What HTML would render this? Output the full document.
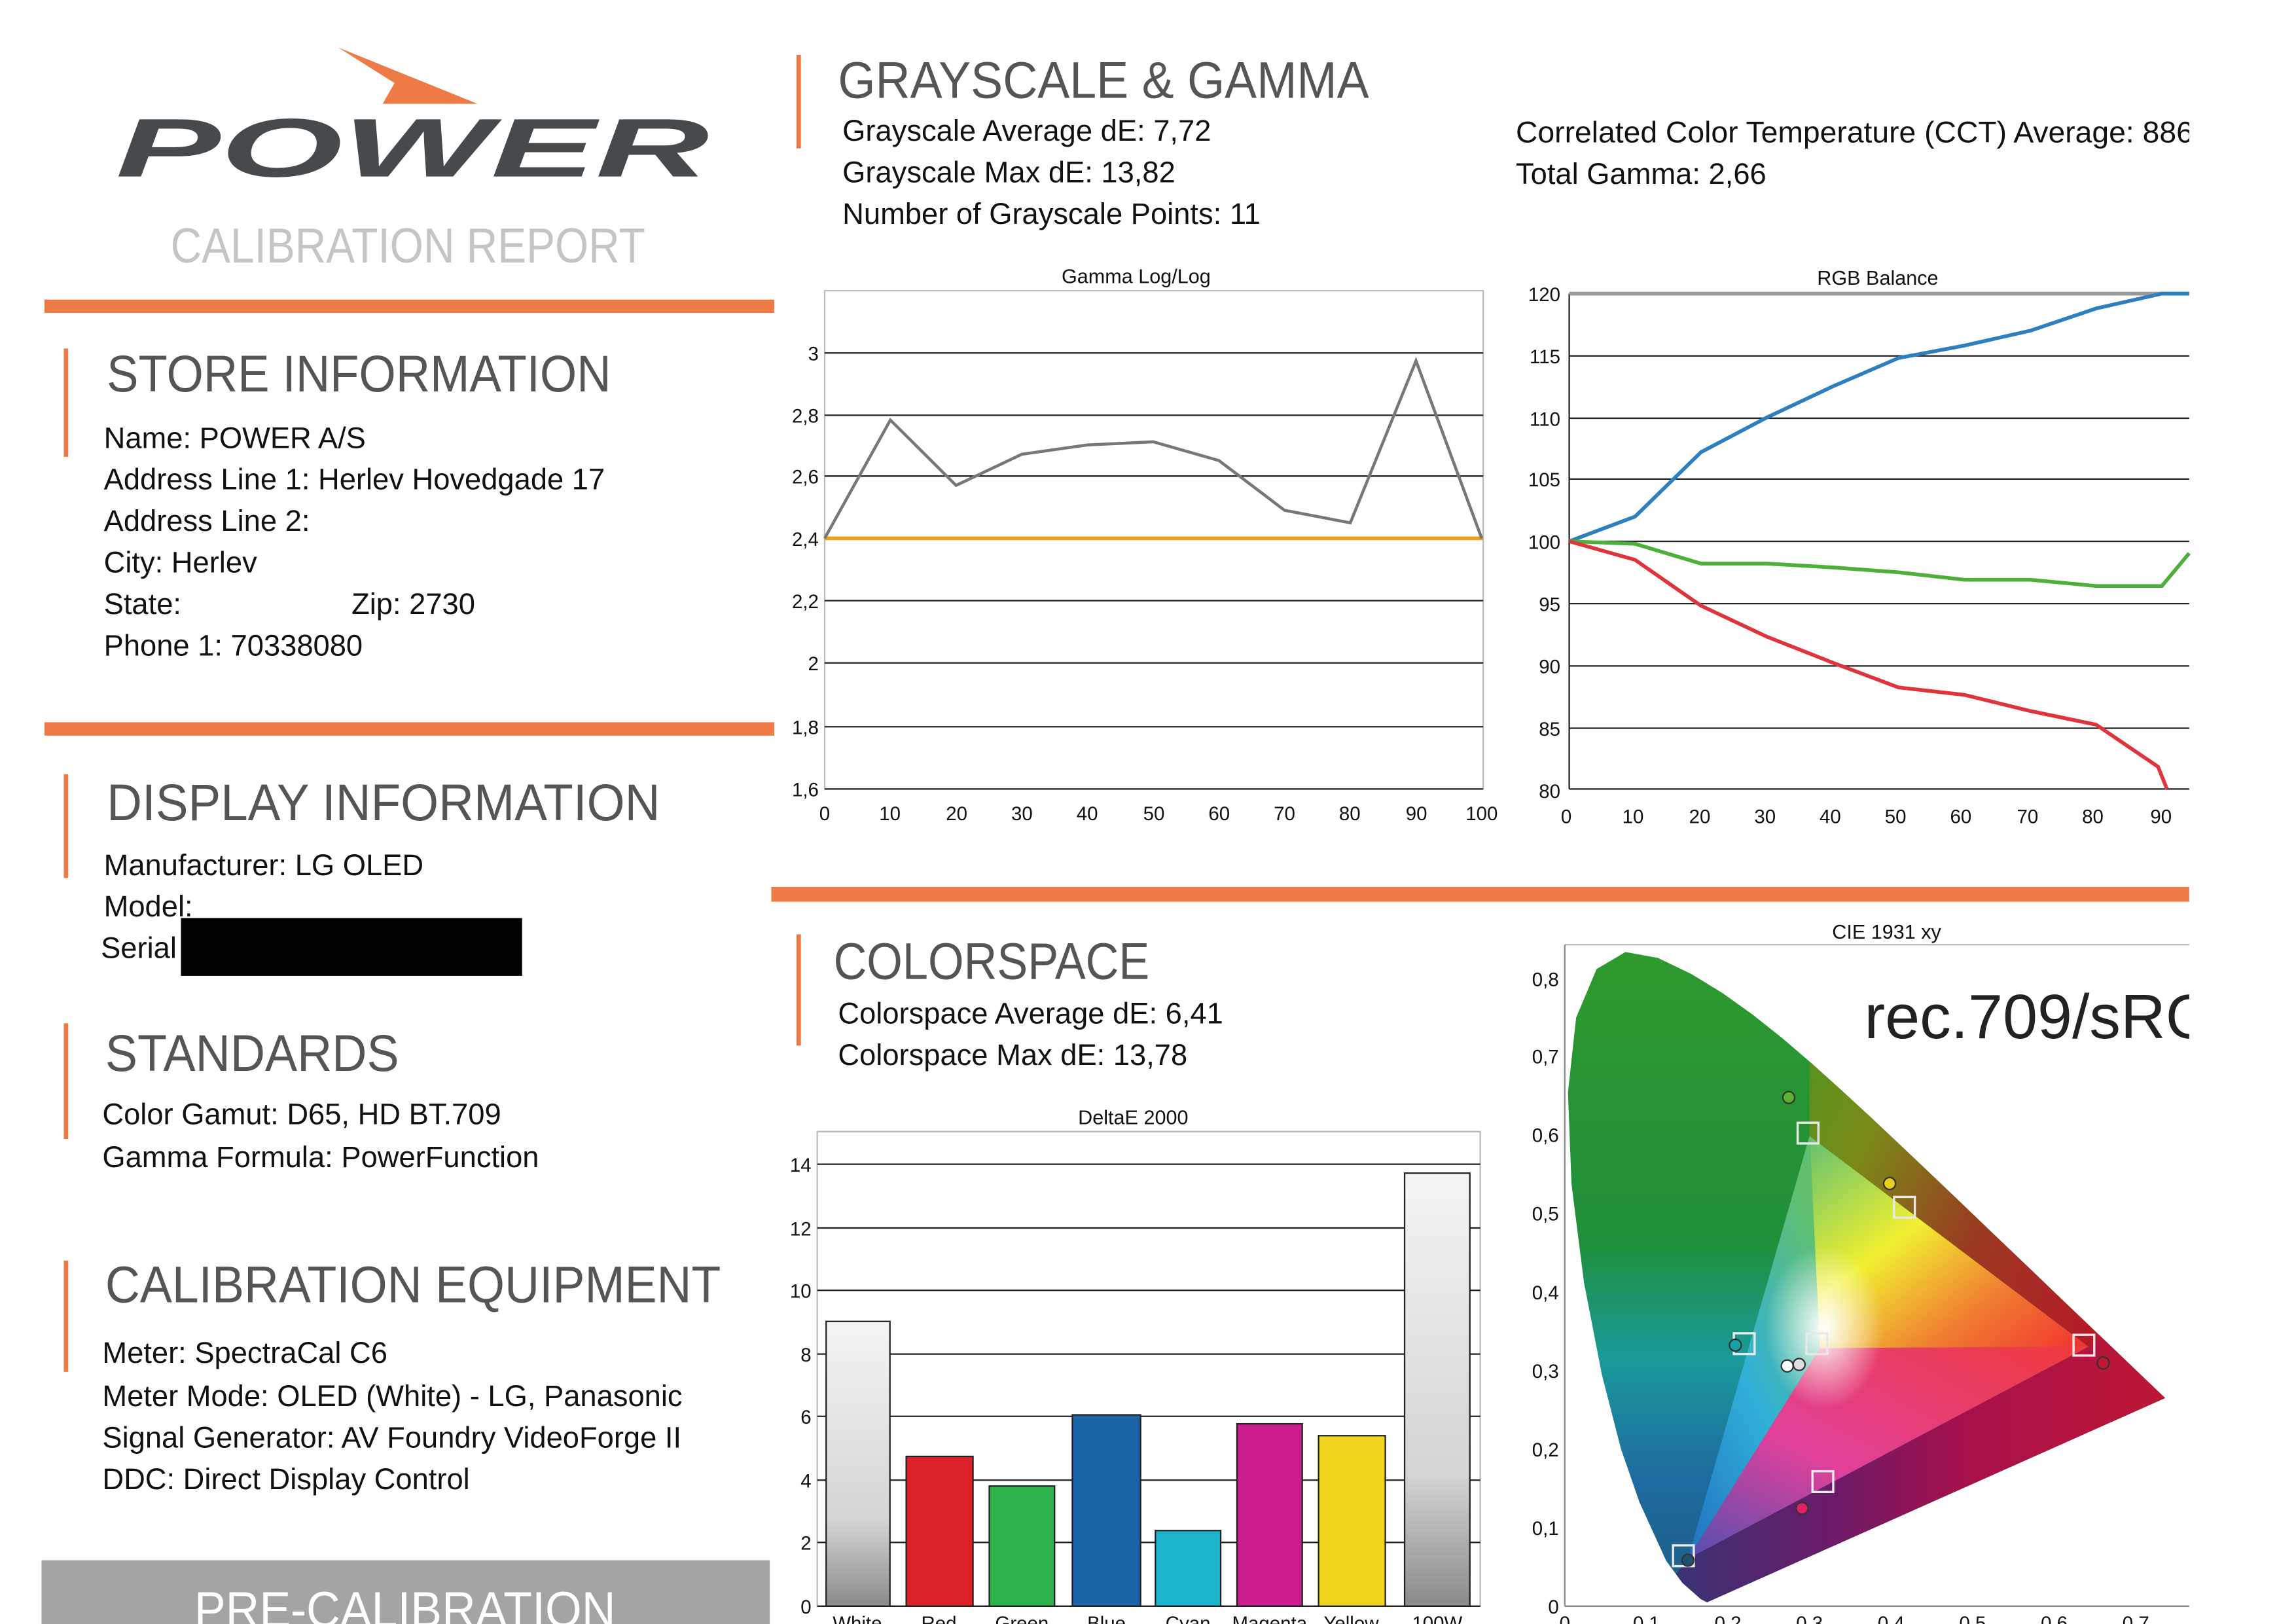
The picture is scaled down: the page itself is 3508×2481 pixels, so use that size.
<!DOCTYPE html>
<html><head><meta charset="utf-8"><style>
html,body{margin:0;padding:0;background:#fff;}
svg{display:block;}
text{font-family:"Liberation Sans",sans-serif;}
</style></head><body>
<svg width="3508" height="2481" viewBox="0 0 1548 1095" preserveAspectRatio="none" xmlns="http://www.w3.org/2000/svg">
<defs>
<clipPath id="cl"><rect x="0" y="0" width="1476" height="1095"/></clipPath>
<linearGradient id="hg" x1="0" y1="0" x2="0" y2="1">
<stop offset="0" stop-color="#2f9a2c"/><stop offset="0.45" stop-color="#1f8f3a"/><stop offset="0.62" stop-color="#1a9a9a"/><stop offset="0.8" stop-color="#1e6aa0"/><stop offset="1" stop-color="#1f5c80"/></linearGradient>
<linearGradient id="lw" x1="0" y1="0" x2="1" y2="0"><stop offset="0" stop-color="#2a3a78"/><stop offset="0.35" stop-color="#6a1a68"/><stop offset="0.6" stop-color="#a8104a"/><stop offset="1" stop-color="#c01830"/></linearGradient>
<linearGradient id="uw" x1="0" y1="0" x2="1" y2="0.6"><stop offset="0" stop-color="#3a9a22"/><stop offset="0.35" stop-color="#7a8a18"/><stop offset="0.65" stop-color="#9a3a20"/><stop offset="1" stop-color="#b81828"/></linearGradient>
<linearGradient id="t1" x1="0" y1="0" x2="1" y2="1"><stop offset="0" stop-color="#60c070"/><stop offset="0.4" stop-color="#f0f030"/><stop offset="0.7" stop-color="#f08030"/><stop offset="1" stop-color="#f03030"/></linearGradient>
<linearGradient id="t2" x1="1" y1="0" x2="0" y2="1"><stop offset="0" stop-color="#f03a3a"/><stop offset="0.6" stop-color="#e0409a"/><stop offset="1" stop-color="#5050b0"/></linearGradient>
<linearGradient id="t3" x1="0" y1="1" x2="0.6" y2="0"><stop offset="0" stop-color="#2070c0"/><stop offset="0.5" stop-color="#30b0d8"/><stop offset="1" stop-color="#60c070"/></linearGradient>
<radialGradient id="wc" cx="0.5" cy="0.5" r="0.5"><stop offset="0" stop-color="#fff" stop-opacity="1"/><stop offset="1" stop-color="#fff" stop-opacity="0"/></radialGradient>
<linearGradient id="bw" x1="0" y1="0" x2="0" y2="1"><stop offset="0" stop-color="#f4f4f4"/><stop offset="0.7" stop-color="#d4d4d4"/><stop offset="1" stop-color="#8a8a8a"/></linearGradient>
<clipPath id="hs"><path transform="translate(1055,1083) scale(551,-529)" d="M0.1741,0.005 L0.1666,0.0089 L0.144,0.0297 L0.1241,0.0578 L0.0913,0.1327 L0.0687,0.2007 L0.0454,0.295 L0.0235,0.4127 L0.0082,0.5384 L0.0039,0.6548 L0.0139,0.7502 L0.0389,0.812 L0.0743,0.8338 L0.1142,0.8262 L0.1547,0.8059 L0.1929,0.7816 L0.2296,0.7543 L0.2658,0.7243 L0.3016,0.6923 L0.3373,0.6589 L0.3731,0.6245 L0.4087,0.5896 L0.4441,0.5547 L0.4788,0.5202 L0.5125,0.4866 L0.5448,0.4544 L0.5752,0.4242 L0.6029,0.3965 L0.627,0.3725 L0.6482,0.3514 L0.6658,0.334 L0.6801,0.3197 L0.7347,0.2653 Z"/></clipPath>
</defs>
<rect width="1548" height="1095" fill="#fff"/>
<!-- logo -->
<polygon points="228,32 322,70 258,70 266,56" fill="#ee7b45"/>
<text x="78" y="119" font-size="56" font-weight="bold" font-style="italic" fill="#474a4d" textLength="400" lengthAdjust="spacingAndGlyphs">POWER</text>
<text x="115" y="177" font-size="33" fill="#c4c6c4" textLength="320" lengthAdjust="spacingAndGlyphs">CALIBRATION REPORT</text>
<rect x="30" y="202" width="492" height="9" fill="#ee7b45"/>
<rect x="43" y="235" width="3" height="73" fill="#ee7b45"/>
<text x="72" y="264" font-size="35" fill="#555" textLength="340" lengthAdjust="spacingAndGlyphs">STORE INFORMATION</text>
<g font-size="20" fill="#111">
<text x="70" y="302">Name: POWER A/S</text>
<text x="70" y="330">Address Line 1: Herlev Hovedgade 17</text>
<text x="70" y="358">Address Line 2:</text>
<text x="70" y="386">City: Herlev</text>
<text x="70" y="414">State:</text><text x="237" y="414">Zip: 2730</text>
<text x="70" y="442">Phone 1: 70338080</text>
</g>
<rect x="30" y="487" width="492" height="9" fill="#ee7b45"/>
<rect x="43" y="522" width="3" height="70" fill="#ee7b45"/>
<text x="72" y="553" font-size="35" fill="#555" textLength="373" lengthAdjust="spacingAndGlyphs">DISPLAY INFORMATION</text>
<g font-size="20" fill="#111">
<text x="70" y="590">Manufacturer: LG OLED</text>
<text x="70" y="618">Model:</text>
<text x="68" y="646">Serial</text>
</g>
<rect x="122" y="619" width="230" height="39" fill="#000"/>
<rect x="43" y="690" width="3" height="78" fill="#ee7b45"/>
<text x="71" y="722" font-size="35" fill="#555" textLength="198" lengthAdjust="spacingAndGlyphs">STANDARDS</text>
<g font-size="20" fill="#111">
<text x="69" y="758">Color Gamut: D65, HD BT.709</text>
<text x="69" y="787">Gamma Formula: PowerFunction</text>
</g>
<rect x="43" y="850" width="3" height="75" fill="#ee7b45"/>
<text x="71" y="878" font-size="35" fill="#555" textLength="415" lengthAdjust="spacingAndGlyphs">CALIBRATION EQUIPMENT</text>
<g font-size="20" fill="#111">
<text x="69" y="919">Meter: SpectraCal C6</text>
<text x="69" y="948">Meter Mode: OLED (White) - LG, Panasonic</text>
<text x="69" y="976">Signal Generator: AV Foundry VideoForge II</text>
<text x="69" y="1004">DDC: Direct Display Control</text>
</g>
<rect x="28" y="1052" width="491" height="43" fill="#a2a5a3"/>
<text x="131" y="1097" font-size="34" fill="#fff" textLength="284" lengthAdjust="spacingAndGlyphs">PRE-CALIBRATION</text>

<!-- grayscale header -->
<rect x="537" y="37" width="3" height="63" fill="#ee7b45"/>
<text x="565" y="66" font-size="35" fill="#555" textLength="358" lengthAdjust="spacingAndGlyphs">GRAYSCALE &amp; GAMMA</text>
<g font-size="20" fill="#111">
<text x="568" y="95">Grayscale Average dE: 7,72</text>
<text x="568" y="123">Grayscale Max dE: 13,82</text>
<text x="568" y="151">Number of Grayscale Points: 11</text>
<g clip-path="url(#cl)">
<text x="1022" y="96" textLength="468" lengthAdjust="spacingAndGlyphs">Correlated Color Temperature (CCT) Average: 8865</text>
</g>
<text x="1022" y="124">Total Gamma: 2,66</text>
</g>

<!-- Gamma chart -->
<text x="766" y="191" font-size="13.5" text-anchor="middle" fill="#111">Gamma Log/Log</text>
<rect x="556" y="196" width="444" height="336" fill="none" stroke="#bbb" stroke-width="1"/>
<g stroke="#222" stroke-width="1">
<line x1="556" y1="238" x2="1000" y2="238"/><line x1="556" y1="280" x2="1000" y2="280"/><line x1="556" y1="321" x2="1000" y2="321"/><line x1="556" y1="405" x2="1000" y2="405"/><line x1="556" y1="447" x2="1000" y2="447"/><line x1="556" y1="490" x2="1000" y2="490"/><line x1="556" y1="532" x2="1000" y2="532"/>
</g>
<g font-size="13" fill="#111" text-anchor="end">
<text x="552" y="243">3</text><text x="552" y="285">2,8</text><text x="552" y="326">2,6</text><text x="552" y="368">2,4</text><text x="552" y="410">2,2</text><text x="552" y="452">2</text><text x="552" y="495">1,8</text><text x="552" y="537">1,6</text>
</g>
<g font-size="13" fill="#111" text-anchor="middle">
<text x="556" y="553">0</text><text x="600" y="553">10</text><text x="645" y="553">20</text><text x="689" y="553">30</text><text x="733" y="553">40</text><text x="778" y="553">50</text><text x="822" y="553">60</text><text x="866" y="553">70</text><text x="910" y="553">80</text><text x="955" y="553">90</text><text x="999" y="553">100</text>
</g>
<line x1="556" y1="363" x2="1000" y2="363" stroke="#e8a21c" stroke-width="2.5"/>
<polyline points="556,363 600.3,283.2 644.6,327.3 688.9,306.3 733.2,300 777.5,297.9 821.8,310.5 866.1,344.1 910.4,352.5 954.7,243.3 999,363" fill="none" stroke="#777" stroke-width="2"/>

<!-- RGB chart -->
<text x="1266" y="192" font-size="13.5" text-anchor="middle" fill="#111">RGB Balance</text>
<g stroke="#222" stroke-width="1">
<line x1="1058" y1="240" x2="1476" y2="240"/><line x1="1058" y1="282" x2="1476" y2="282"/><line x1="1058" y1="323" x2="1476" y2="323"/><line x1="1058" y1="365" x2="1476" y2="365"/><line x1="1058" y1="407" x2="1476" y2="407"/><line x1="1058" y1="449" x2="1476" y2="449"/><line x1="1058" y1="491" x2="1476" y2="491"/><line x1="1058" y1="532" x2="1476" y2="532"/><line x1="1058" y1="198" x2="1058" y2="532"/>
</g>
<line x1="1058" y1="198" x2="1476" y2="198" stroke="#999" stroke-width="2.5"/>
<g font-size="13" fill="#111" text-anchor="end">
<text x="1052" y="203">120</text><text x="1052" y="245">115</text><text x="1052" y="287">110</text><text x="1052" y="328">105</text><text x="1052" y="370">100</text><text x="1052" y="412">95</text><text x="1052" y="454">90</text><text x="1052" y="496">85</text><text x="1052" y="538">80</text>
</g>
<g font-size="13" fill="#111" text-anchor="middle">
<text x="1056" y="555">0</text><text x="1101" y="555">10</text><text x="1146" y="555">20</text><text x="1190" y="555">30</text><text x="1234" y="555">40</text><text x="1278" y="555">50</text><text x="1322" y="555">60</text><text x="1367" y="555">70</text><text x="1411" y="555">80</text><text x="1457" y="555">90</text>
</g>
<polyline points="1058,365 1102.4,348.3 1146.8,304.9 1191.2,281.5 1235.6,260.6 1280,241.4 1324.4,233 1368.8,223 1413.2,208 1457.6,198 1476,198" fill="none" stroke="#2e7fc0" stroke-width="2.5"/>
<polyline points="1058,365 1102.4,366.7 1146.8,380 1191.2,380 1235.6,382.6 1280,385.9 1324.4,390.9 1368.8,390.9 1413.2,395.1 1457.6,395.1 1476,373" fill="none" stroke="#4cb03a" stroke-width="2.5"/>
<polyline points="1058,365 1102.4,377.5 1146.8,408.4 1191.2,429.3 1235.6,446.8 1280,463.5 1324.4,468.5 1368.8,479.4 1413.2,488.6 1455,517 1461,532" fill="none" stroke="#e0343c" stroke-width="2.5"/>

<rect x="520" y="598" width="956" height="10" fill="#ee7b45"/>

<!-- colorspace -->
<rect x="537" y="630" width="3" height="75" fill="#ee7b45"/>
<text x="562" y="660" font-size="35" fill="#555" textLength="213" lengthAdjust="spacingAndGlyphs">COLORSPACE</text>
<g font-size="20" fill="#111">
<text x="565" y="690">Colorspace Average dE: 6,41</text>
<text x="565" y="718">Colorspace Max dE: 13,78</text>
</g>

<!-- DeltaE chart -->
<text x="764" y="758" font-size="13.5" text-anchor="middle" fill="#111">DeltaE 2000</text>
<rect x="551" y="763" width="447" height="320" fill="none" stroke="#bbb"/>
<g stroke="#222" stroke-width="1">
<line x1="551" y1="785" x2="998" y2="785"/><line x1="551" y1="828" x2="998" y2="828"/><line x1="551" y1="870" x2="998" y2="870"/><line x1="551" y1="913" x2="998" y2="913"/><line x1="551" y1="955" x2="998" y2="955"/><line x1="551" y1="998" x2="998" y2="998"/><line x1="551" y1="1040" x2="998" y2="1040"/><line x1="551" y1="1083" x2="998" y2="1083"/>
</g>
<g font-size="13" fill="#111" text-anchor="end">
<text x="547" y="790">14</text><text x="547" y="833">12</text><text x="547" y="875">10</text><text x="547" y="918">8</text><text x="547" y="960">6</text><text x="547" y="1003">4</text><text x="547" y="1045">2</text><text x="547" y="1088">0</text>
</g>
<g stroke="#222" stroke-width="1">
<rect x="557" y="891" width="43" height="192" fill="url(#bw)"/>
<rect x="611" y="982" width="45" height="101" fill="#dc2228"/>
<rect x="667" y="1002" width="44" height="81" fill="#2eb34a"/>
<rect x="723" y="954" width="46" height="129" fill="#1a63a6"/>
<rect x="779" y="1032" width="44" height="51" fill="#1cb4cc"/>
<rect x="834" y="960" width="44" height="123" fill="#cc1e8e"/>
<rect x="889" y="968" width="45" height="115" fill="#f2d41e"/>
<rect x="947" y="791" width="44" height="292" fill="url(#bw)"/>
</g>
<g font-size="13" fill="#111" text-anchor="middle">
<text x="578" y="1099">White</text><text x="633" y="1099">Red</text><text x="689" y="1099">Green</text><text x="746" y="1099">Blue</text><text x="801" y="1099">Cyan</text><text x="856" y="1099">Magenta</text><text x="911" y="1099">Yellow</text><text x="969" y="1099">100W</text>
</g>

<!-- CIE -->
<text x="1272" y="633" font-size="13.5" text-anchor="middle" fill="#111">CIE 1931 xy</text>
<line x1="1055" y1="637" x2="1476" y2="637" stroke="#bbb"/>
<line x1="1055" y1="637" x2="1055" y2="1083" stroke="#888"/>
<line x1="1055" y1="1083" x2="1476" y2="1083" stroke="#888"/>
<g clip-path="url(#hs)">
<rect x="1050" y="630" width="420" height="460" fill="url(#hg)"/>
<!-- below B-R edge -->
<polygon points="1138,1051 1408,908 1470,870 1480,1100 1100,1100" fill="url(#lw)"/>
<!-- right of G-R edge -->
<polygon points="1220,766 1408,908 1470,870 1480,600 1220,600" fill="url(#uw)"/>
<polygon points="1220,766 1408,908 1227,909" fill="url(#t1)"/>
<polygon points="1408,908 1138,1051 1227,909" fill="url(#t2)"/>
<polygon points="1138,1051 1220,766 1227,909" fill="url(#t3)"/>
<ellipse cx="1230" cy="895" rx="40" ry="55" fill="url(#wc)"/>
</g>
<g font-size="13" fill="#111" text-anchor="end">
<text x="1051" y="665">0,8</text><text x="1051" y="717">0,7</text><text x="1051" y="770">0,6</text><text x="1051" y="823">0,5</text><text x="1051" y="876">0,4</text><text x="1051" y="929">0,3</text><text x="1051" y="982">0,2</text><text x="1051" y="1035">0,1</text><text x="1051" y="1088">0</text>
</g>
<g font-size="13" fill="#111" text-anchor="middle">
<text x="1055" y="1099">0</text><text x="1110" y="1099">0,1</text><text x="1165" y="1099">0,2</text><text x="1220" y="1099">0,3</text><text x="1275" y="1099">0,4</text><text x="1330" y="1099">0,5</text><text x="1385" y="1099">0,6</text><text x="1440" y="1099">0,7</text>
</g>
<g fill="none" stroke="#e8e8e8" stroke-width="1.5">
<rect x="1212" y="757" width="14" height="14"/><rect x="1277" y="807" width="14" height="14"/><rect x="1169" y="899" width="14" height="14"/><rect x="1218" y="899" width="14" height="14"/><rect x="1398" y="900" width="14" height="14"/><rect x="1222" y="992" width="14" height="14"/><rect x="1128" y="1042" width="14" height="14"/>
</g>
<g stroke="#333" stroke-width="1">
<circle cx="1206" cy="740" r="4" fill="#5cb030"/><circle cx="1274" cy="798" r="4" fill="#e8d020"/><circle cx="1170" cy="907" r="4" fill="#18a0a8"/><circle cx="1205" cy="921" r="4" fill="#fff"/><circle cx="1213" cy="920" r="4" fill="#ddd"/><circle cx="1215" cy="1017" r="4" fill="#e0206a"/><circle cx="1418" cy="919" r="4" fill="#c01830"/><circle cx="1138" cy="1052" r="4" fill="#205070"/>
</g>
<g clip-path="url(#cl)">
<text x="1257" y="700" font-size="42" fill="#222">rec.709/sRGB</text>
</g>
</svg>
</body></html>
